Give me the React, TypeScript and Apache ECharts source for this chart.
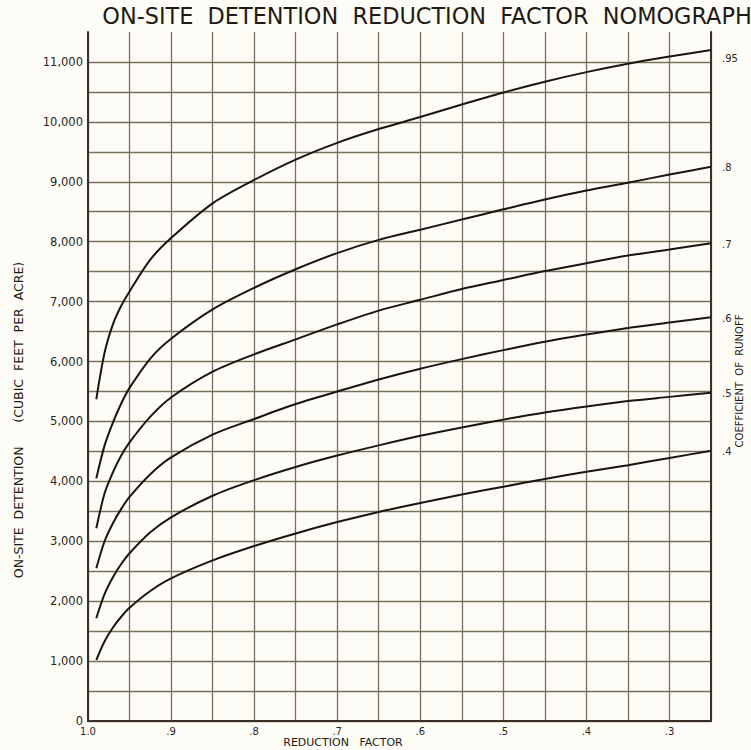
import React, { useEffect, useRef } from "react";
import * as echarts from "echarts";

// Reduction factor (x axis, shared by all curves)
const reductionFactor = [0.99, 0.98, 0.97, 0.96, 0.95, 0.925, 0.9, 0.85, 0.8, 0.75, 0.7, 0.65, 0.6, 0.55, 0.5, 0.45, 0.4, 0.35, 0.3, 0.25];

// On-site detention (cubic feet per acre) for each coefficient of runoff
const c95 = [5370, 6150, 6620, 6930, 7170, 7700, 8060, 8640, 9030, 9370, 9650, 9880, 10080, 10290, 10490, 10670, 10830, 10970, 11090, 11200];
const c80 = [4050, 4600, 4980, 5300, 5560, 6050, 6380, 6870, 7230, 7540, 7810, 8030, 8200, 8370, 8540, 8705, 8855, 8985, 9120, 9250];
const c70 = [3217, 3800, 4150, 4430, 4650, 5080, 5400, 5830, 6120, 6370, 6620, 6850, 7030, 7210, 7360, 7510, 7640, 7770, 7870, 7975];
const c60 = [2550, 3000, 3300, 3540, 3740, 4120, 4400, 4780, 5040, 5290, 5500, 5700, 5880, 6040, 6190, 6330, 6450, 6560, 6650, 6740];
const c50 = [1715, 2120, 2400, 2620, 2800, 3150, 3400, 3760, 4020, 4240, 4430, 4600, 4760, 4900, 5030, 5150, 5250, 5340, 5410, 5480];
const c40 = [1018, 1330, 1560, 1740, 1890, 2170, 2380, 2680, 2920, 3130, 3320, 3490, 3640, 3780, 3910, 4040, 4160, 4270, 4390, 4510];

const coefficientLabels = [".95", ".8", ".7", ".6", ".5", ".4"];
const curves = [c95, c80, c70, c60, c50, c40];

const titleText = "ON-SITE  DETENTION  REDUCTION  FACTOR  NOMOGRAPH";
const yName = "ON-SITE  DETENTION      (CUBIC  FEET  PER  ACRE)";
const rightName = "COEFFICIENT  OF  RUNOFF";
const xName = "REDUCTION   FACTOR";

const INK = "#1a1511";
const GRID = "#7a6f5f";
const AXIS = "#3a3027";
const FONT = "'DejaVu Sans', 'Liberation Sans', sans-serif";

export default function App() {
  const ref = useRef<HTMLDivElement>(null);

  useEffect(() => {
    if (!ref.current) return;
    const chart = echarts.init(ref.current, undefined, { renderer: "svg" });

    const series = curves.map((vals, idx) => ({
      name: coefficientLabels[idx],
      type: "line",
      yAxisIndex: 0,
      data: reductionFactor.map((r, i) => [r, vals[i]]),
      showSymbol: false,
      symbol: "none",
      smooth: 0.3,
      lineStyle: { color: INK, width: 2 },
      endLabel: {
        show: true,
        formatter: coefficientLabels[idx],
        distance: 0,
        align: "left",
        verticalAlign: "middle",
        offset: idx === 0 ? [11, 9] : [11, 1],
        color: "#2a241e",
        fontSize: 10,
        fontFamily: FONT,
      },
      silent: true,
    }));

    chart.setOption({
      animation: false,
      backgroundColor: "#fdfcf6",
      grid: { left: 88, right: 40, top: 32, bottom: 29, containLabel: false },
      xAxis: {
        type: "value",
        min: 0.25,
        max: 1.0,
        interval: 0.05,
        inverse: true,
        axisLine: { show: true, onZero: false, lineStyle: { color: AXIS, width: 2 } },
        axisTick: { show: false },
        splitLine: { show: true, lineStyle: { color: GRID, width: 1.3 } },
        axisLabel: {
          margin: 5,
          fontSize: 10,
          fontFamily: FONT,
          color: "#2a241e",
          formatter: (v: number) => {
            const k = Math.round(v * 100);
            if (k % 10 !== 0) return "";
            return k === 100 ? "1.0" : "." + k / 10;
          },
        },
      },
      yAxis: [
        {
          type: "value",
          min: 0,
          max: 11500,
          interval: 500,
          axisLine: { show: true, lineStyle: { color: AXIS, width: 2 } },
          axisTick: { show: false },
          splitLine: { show: true, showMaxLine: false, lineStyle: { color: GRID, width: 1.3 } },
          axisLabel: {
            margin: 5,
            fontSize: 11.5,
            fontFamily: FONT,
            color: "#2a241e",
            formatter: (v: number) => (v % 1000 === 0 ? v.toLocaleString("en-US") : ""),
          },
        },
        {
          type: "value",
          position: "right",
          min: 0,
          max: 11500,
          interval: 500,
          axisLine: { show: true, lineStyle: { color: AXIS, width: 2 } },
          axisTick: { show: false },
          axisLabel: { show: false },
          splitLine: { show: false },
        },
      ],
      graphic: [
        {
          type: "text",
          x: 427,
          y: 16,
          style: {
            text: titleText,
            fill: "#1f1a15",
            font: `22.4px ${FONT}`,
            textAlign: "center",
            textVerticalAlign: "middle",
          },
        },
        {
          type: "text",
          x: 18,
          y: 420,
          rotation: Math.PI / 2,
          style: {
            text: yName,
            fill: "#1f1a15",
            font: `12.5px ${FONT}`,
            textAlign: "center",
            textVerticalAlign: "middle",
          },
        },
        {
          type: "text",
          x: 739,
          y: 381,
          rotation: Math.PI / 2,
          style: {
            text: rightName,
            fill: "#1f1a15",
            font: `10px ${FONT}`,
            textAlign: "center",
            textVerticalAlign: "middle",
          },
        },
        {
          type: "text",
          x: 343,
          y: 742,
          style: {
            text: xName,
            fill: "#1f1a15",
            font: `11px ${FONT}`,
            textAlign: "center",
            textVerticalAlign: "middle",
          },
        },
      ],
      series,
    });

    return () => chart.dispose();
  }, []);

  return <div ref={ref} style={{ position: "fixed", left: 0, top: 0, width: 751, height: 750 }} />;
}
